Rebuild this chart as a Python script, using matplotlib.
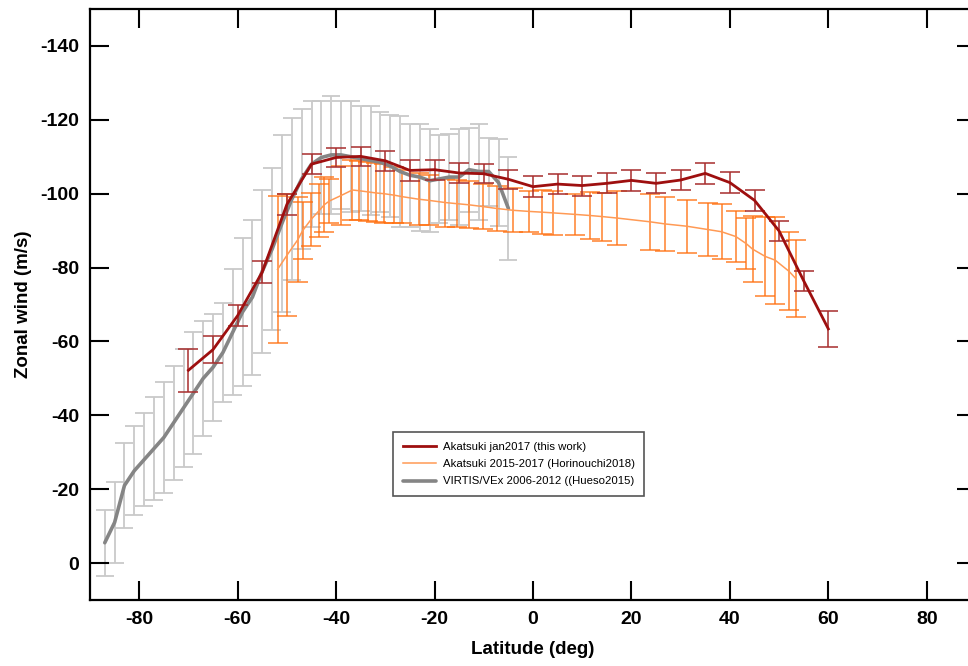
import matplotlib
matplotlib.use("Agg")
import matplotlib.pyplot as plt
import numpy as np

plt.rcParams['font.family'] = ['Liberation Sans', 'DejaVu Sans']

# ---- Akatsuki jan2017 (this work) ----
red_lat = [-70, -65, -60, -55, -50, -45, -40, -35, -30, -25, -20, -15, -10, -5,
           0, 5, 10, 15, 20, 25, 30, 35, 40, 45, 50, 55, 60]
red_val = [-52.2, -57.8, -67.0, -78.8, -97.1, -108.0, -109.8, -110.1, -108.9, -106.3,
           -106.5, -105.6, -105.4, -103.9, -101.9, -102.6, -102.2, -102.8, -103.6,
           -102.8, -103.7, -105.5, -103.0, -98.2, -89.9, -76.4, -63.4]
red_err = [5.8, 3.6, 2.9, 2.9, 2.8, 2.7, 2.7, 2.6, 2.7, 2.8, 2.7, 2.8, 2.6, 2.6,
           2.8, 2.7, 2.7, 2.7, 2.8, 2.7, 2.8, 2.8, 2.8, 2.8, 2.8, 2.8, 4.8]

# ---- Akatsuki 2015-2017 (Horinouchi2018) ----
ora_lat = [-51.9, -49.9, -47.8, -46.8, -45.1, -43.4, -42.4, -41.4, -39.0, -36.7,
           -35.3, -33.6, -31.9, -30.3, -28.2, -26.6, -23.2, -21.2, -17.8, -15.5,
           -13.1, -10.1, -7.4, -4.0, -0.8, 1.8, 4.1, 8.5, 11.5, 14.1, 17.1, 23.7,
           26.9, 31.2, 35.5, 38.3, 41.2, 43.3, 44.6, 47.2, 49.2, 52.0, 53.4]
ora_val = [-79.5, -83.5, -87.5, -90.0, -93.0, -95.5, -97.0, -98.0, -99.5, -101.0,
           -100.8, -100.5, -100.2, -100.0, -99.6, -99.2, -98.5, -98.2, -97.6, -97.3,
           -97.0, -96.5, -96.0, -95.5, -95.2, -95.0, -94.8, -94.4, -94.1, -93.8,
           -93.4, -92.4, -91.8, -91.2, -90.3, -89.7, -88.4, -86.5, -85.0, -83.0,
           -82.0, -79.0, -77.0]
ora_err = [20.0, 16.5, 11.5, 7.8, 7.2, 7.1, 7.4, 6.0, 8.0, 8.0,
           8.0, 8.0, 8.0, 8.0, 7.5, 7.2, 7.0, 6.8, 6.5, 6.3,
           6.3, 6.0, 6.0, 6.0, 5.5, 6.0, 6.0, 5.5, 6.3, 6.5,
           7.3, 7.6, 7.3, 7.2, 7.3, 7.5, 6.8, 6.8, 9.0, 10.7,
           11.8, 10.6, 10.5]

# ---- VIRTIS/VEx 2006-2012 (Hueso2015) ----
gray_lat = [-87, -85, -83, -81, -79, -77, -75, -73, -71, -69, -67, -65, -63, -61,
            -59, -57, -55, -53, -51, -49, -47, -45, -43, -41, -39, -37, -35, -33,
            -31, -29, -27, -25, -23, -21, -19, -17, -15, -13, -11, -9, -7, -5]
gray_val = [-5.5, -11.0, -21.0, -25.0, -28.0, -31.0, -34.0, -38.0, -42.0, -46.0,
            -50.0, -53.0, -57.0, -62.5, -68.0, -72.0, -79.0, -85.0, -92.0, -98.5,
            -104.0, -108.0, -109.8, -110.5, -110.5, -110.0, -109.5, -109.0, -108.5,
            -107.5, -106.0, -105.0, -104.5, -103.5, -104.0, -104.5, -104.5, -106.5,
            -106.0, -106.0, -103.0, -96.0]
gray_err = [9.0, 11.0, 11.5, 12.0, 12.5, 14.0, 15.0, 15.4, 16.0, 16.5,
            15.5, 14.5, 13.5, 17.0, 20.0, 21.0, 22.0, 22.0, 24.0, 22.0,
            19.0, 17.0, 15.3, 16.0, 14.6, 15.0, 14.3, 14.8, 13.5, 13.8,
            15.0, 14.0, 14.5, 14.0, 12.0, 11.6, 13.0, 11.4, 13.0, 9.2,
            11.8, 14.0]

labels = ["Akatsuki jan2017 (this work)",
          "Akatsuki 2015-2017 (Horinouchi2018)",
          "VIRTIS/VEx 2006-2012 ((Hueso2015)"]
xticks = [-80, -60, -40, -20, 0, 20, 40, 60, 80]
yticks = [0, -20, -40, -60, -80, -100, -120, -140]

fig = plt.figure(figsize=(9.68, 6.66), dpi=100)
ax = fig.add_axes([90/968, 66/666, 886/968, 591/666])

# gray error bars
ax.errorbar(gray_lat, gray_val, yerr=gray_err, fmt='none', ecolor='#c9c9c9',
            elinewidth=1.3, capsize=6.5, capthick=1.3, zorder=1)
# orange error bars
ax.errorbar(ora_lat, ora_val, yerr=ora_err, fmt='none', ecolor='#ff7010',
            elinewidth=1.3, capsize=7.5, capthick=1.3, alpha=0.75, zorder=2)
# gray line
l3, = ax.plot(gray_lat, gray_val, color='#858585', lw=2.6, zorder=3,
              solid_capstyle='round')
# orange line
l2, = ax.plot(ora_lat, ora_val, color='#ff9a55', lw=1.1, zorder=4)
# red error bars
ax.errorbar(red_lat, red_val, yerr=red_err, fmt='none', ecolor='#a83030',
            elinewidth=1.4, capsize=7.5, capthick=1.4, alpha=0.8, zorder=5)
l1, = ax.plot(red_lat, red_val, color='#9e0f0f', lw=2.0, zorder=6)

ax.set_xlim(-90, 90)
ax.set_ylim(10, -150)
ax.set_xticks(xticks)
ax.set_yticks(yticks)
ax.set_xticklabels([str(t) for t in xticks])
ax.set_yticklabels([str(t) for t in yticks])

for s in ax.spines.values():
    s.set_linewidth(1.6)
    s.set_color('black')
ax.tick_params(direction='in', length=14, width=1.5, top=True, right=True,
               labelsize=14, pad=8)
for lab in ax.get_xticklabels() + ax.get_yticklabels():
    lab.set_fontweight('bold')

ax.set_xlabel('Latitude (deg)', fontsize=13.5, fontweight='bold', labelpad=9)
ax.set_ylabel('Zonal wind (m/s)', fontsize=13.5, fontweight='bold', labelpad=6)

leg = ax.legend([l1, l2, l3], labels, loc='upper left',
                bbox_to_anchor=((393 - 90) / 886, (600 - 432) / 591),
                borderaxespad=0, fancybox=False, fontsize=8.2,
                handlelength=2.9, labelspacing=0.65, borderpad=0.85,
                handletextpad=0.6, framealpha=1)
leg.get_frame().set_edgecolor('#555555')
leg.get_frame().set_linewidth(1.2)

fig.savefig('out.png', dpi=100)
